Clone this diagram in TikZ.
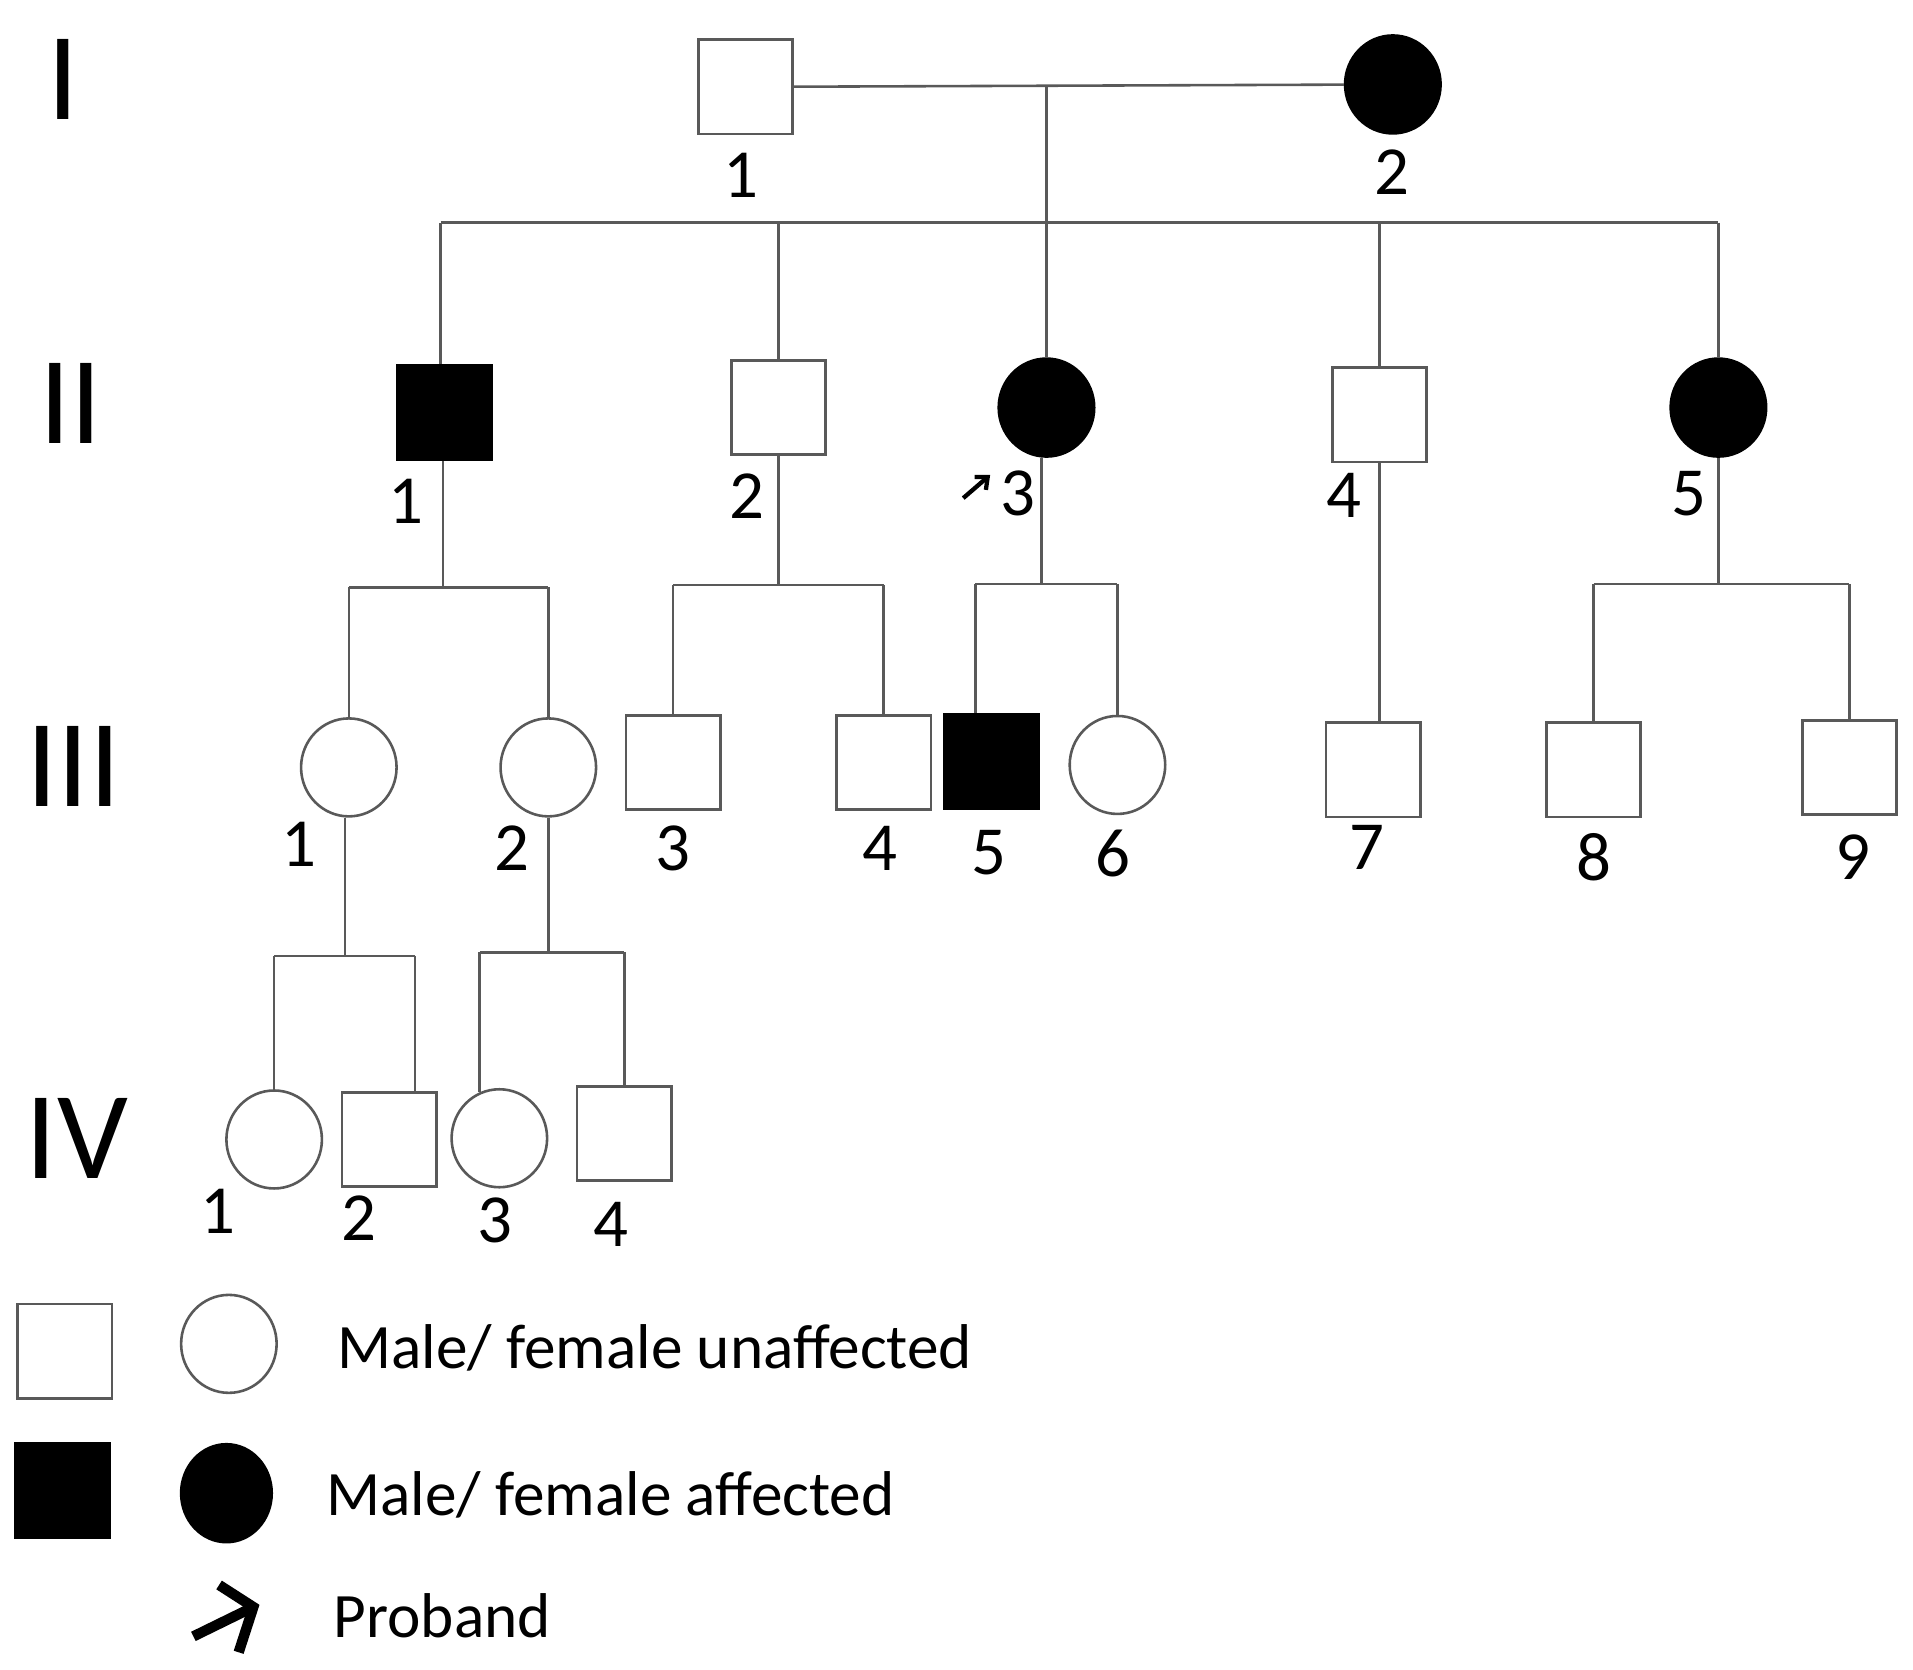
\documentclass[tikz,border=0pt]{standalone}
\usepackage{fontspec}
\setmainfont{Carlito}
\usetikzlibrary{positioning}
\usetikzlibrary{shapes.geometric}
\usetikzlibrary{arrows.meta}
\definecolor{linegray}{rgb}{0.35,0.35,0.35}
\tikzset{
	male/.style={rectangle, draw=linegray, line width=0.6pt, fill=white, minimum size=0.77cm, inner sep=0pt},
	female/.style={ellipse, draw=linegray, line width=0.6pt, fill=white, minimum width=0.78cm, minimum height=0.8cm, inner sep=0pt},
	affected/.style={fill=black, draw=black},
	line/.style={draw=linegray, line width=0.6pt},
	num/.style={font=\fontsize{16}{16}\selectfont, inner sep=0pt},
	gen/.style={font=\fontsize{29}{29}\selectfont, inner sep=0pt},
	legtext/.style={font=\fontsize{14.7}{15}\selectfont, anchor=west, inner sep=0pt},
	probarrow/.style={line width=2.4pt, line join=miter}
}

\begin{document}
\begin{tikzpicture}[x=0.01cm, y=-0.01cm]
	\useasboundingbox (0,0) rectangle (1563,1364);
	
	% Generations
	\node[gen] (gI) at (52,65) {I};
	\node[gen] (gII) at (58,330) {II};
	\node[gen] (gIII) at (60,626) {III};
	\node[gen] (gIV) at (63,930) {IV};
	
	% Generation I
	\node[male] (I1) at (609,71) {};
	\node[female, affected] (I2) at (1138,69) {};
	\node[num] (nI1) at (605,143) {1};
	\node[num] (nI2) at (1137,141) {2};
	\draw[line] (I1) -- (I2);
	\coordinate (mI) at (855,70);
	
	% Generation II
	\node[male, affected] (II1) at (363,337) {};
	\node[male] (II2) at (636,333) {};
	\node[female, affected] (II3) at (855,333) {};
	\node[male] (II4) at (1127,339) {};
	\node[female, affected] (II5) at (1404,333) {};
	\node[num] (nII1) at (332,410) {1};
	\node[num] (nII2) at (610,405) {2};
	\node[num] (nII3) at (832,403) {3};
	\node[num] (nII4) at (1098,405) {4};
	\node[num] (nII5) at (1380,403) {5};
	\coordinate (pbI) at (787,407);
	\coordinate (pbII) at (809,388);
	\draw[line width=1pt, -{Straight Barb[length=0.08cm, width=0.14cm]}] (pbI) -- (pbII);
	
	% sibship I -> II
	\coordinate (sII) at (0,182);
	\draw[line] (mI) -- (II3);
	\draw[line] ([xshift=-0.03cm]II1.north |- sII) -- (II5.north |- sII);
	\draw[line] ([xshift=-0.03cm]II1.north |- sII) -- ([xshift=-0.03cm]II1.north);
	\foreach \p in {II2,II4,II5}
		\draw[line] (\p.north |- sII) -- (\p.north);
	
	% Generation III
	\node[female] (III1) at (285,627) {};
	\node[female] (III2) at (448,627) {};
	\node[male] (III3) at (550,623) {};
	\node[male] (III4) at (722,623) {};
	\node[male, affected] (III5) at (810,622) {};
	\node[female] (III6) at (913,625) {};
	\node[male] (III7) at (1122,629) {};
	\node[male] (III8) at (1302,629) {};
	\node[male] (III9) at (1511,627) {};
	\node[num] (nIII1) at (244,690) {1};
	\node[num] (nIII2) at (418,693) {2};
	\node[num] (nIII3) at (550,693) {3};
	\node[num] (nIII4) at (719,693) {4};
	\node[num] (nIII5) at (808,697) {5};
	\node[num] (nIII6) at (909,697) {6};
	\node[num] (nIII7) at (1117,692) {7};
	\node[num] (nIII8) at (1302,700) {8};
	\node[num] (nIII9) at (1514,700) {9};
	
	% children of II-1
	\coordinate (sA) at (0,480);
	\draw[line] ([xshift=-0.01cm]II1.south) -- ([xshift=-0.01cm]II1.south |- sA);
	\draw[line] (III1.north |- sA) -- (III2.north |- sA);
	\draw[line] (III1.north |- sA) -- (III1.north);
	\draw[line] (III2.north |- sA) -- (III2.north);
	
	% children of II-2
	\coordinate (sB) at (0,478);
	\draw[line] (II2.south) -- (II2.south |- sB);
	\draw[line] (III3.north |- sB) -- (III4.north |- sB);
	\draw[line] (III3.north |- sB) -- (III3.north);
	\draw[line] (III4.north |- sB) -- (III4.north);
	
	% children of II-3
	\coordinate (sC) at (0,477);
	\draw[line] ([xshift=-0.04cm]II3.south) -- ([xshift=-0.04cm]II3.south |- sC);
	\draw[line] ([xshift=-0.13cm]III5.north |- sC) -- (III6.north |- sC);
	\draw[line] ([xshift=-0.13cm]III5.north |- sC) -- ([xshift=-0.13cm]III5.north);
	\draw[line] (III6.north |- sC) -- (III6.north);
	
	% child of II-4
	\draw[line] (II4.south) -- (II4.south |- III7.north);
	
	% children of II-5
	\coordinate (sE) at (0,477);
	\draw[line] (II5.south) -- (II5.south |- sE);
	\draw[line] (III8.north |- sE) -- (III9.north |- sE);
	\draw[line] (III8.north |- sE) -- (III8.north);
	\draw[line] (III9.north |- sE) -- (III9.north);
	
	% Generation IV
	\node[female] (IV1) at (224,931) {};
	\node[male] (IV2) at (318,931) {};
	\node[female] (IV3) at (408,930) {};
	\node[male] (IV4) at (510,926) {};
	\node[num] (nIV1) at (178,990) {1};
	\node[num] (nIV2) at (293,995) {2};
	\node[num] (nIV3) at (404,997) {3};
	\node[num] (nIV4) at (499,1000) {4};
	
	% children of III-1
	\coordinate (sF) at (0,781);
	\draw[line] ([xshift=-0.03cm]III1.south) -- ([xshift=-0.03cm]III1.south |- sF);
	\draw[line] (IV1.north |- sF) -- ([xshift=0.21cm]IV2.north |- sF);
	\draw[line] (IV1.north |- sF) -- (IV1.north);
	\draw[line] ([xshift=0.21cm]IV2.north |- sF) -- ([xshift=0.21cm]IV2.north);
	
	% children of III-2
	\coordinate (sG) at (0,778);
	\draw[line] (III2.south) -- (III2.south |- sG);
	\draw[line] ([xshift=-0.16cm]IV3.north |- sG) -- (IV4.north |- sG);
	\draw[line] ([xshift=-0.16cm]IV3.north |- sG) -- ([xshift=-0.16cm,yshift=-0.03cm]IV3.north);
	\draw[line] (IV4.north |- sG) -- (IV4.north);
	
	% Legend
	\node[male] (lgM) at (53,1104) {};
	\node[female] (lgF) at (187,1098) {};
	\node[legtext] (lgU) at (275,1101) {Male/ female unaffected};
	\node[male, affected] (lgMa) at (51,1218) {};
	\node[female, affected, minimum width=0.74cm] (lgFa) at (185,1220) {};
	\node[legtext] (lgA) at (266,1221) {Male/ female affected};
	\coordinate (lgPa) at (158,1337);
	\coordinate (lgPb) at (207,1313);
	\coordinate (lgPc) at (179,1295);
	\coordinate (lgPd) at (195,1350);
	\draw[probarrow] (lgPa) -- (lgPb);
	\draw[probarrow] (lgPc) -- (lgPb) -- (lgPd);
	\node[legtext] (lgP) at (272,1320) {Proband};
	
\end{tikzpicture}
\end{document}
